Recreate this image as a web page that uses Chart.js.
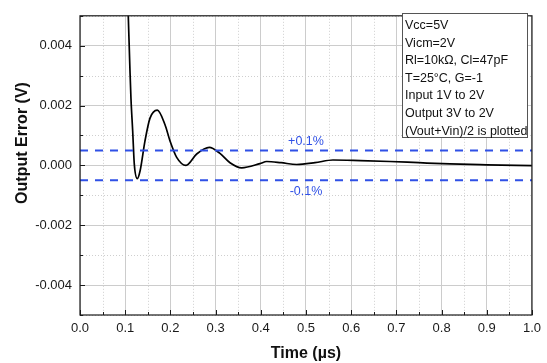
<!DOCTYPE html>
<html>
<head>
<meta charset="utf-8">
<script src="https://cdn.jsdelivr.net/npm/chart.js"></script>
<style>
  html, body { margin: 0; padding: 0; background: #fff; }
  #wrap { width: 547px; height: 363px; }
</style>
</head>
<body>
<div id="wrap"><canvas id="errorChart"></canvas></div>
<script>
// settling waveform (time in µs, error in V)
let timeUs = [0.095, 0.1069, 0.1106, 0.1128, 0.1166, 0.1201, 0.1268, 0.1330, 0.1438, 0.1549, 0.1710, 0.1881,
  0.1991, 0.2139, 0.2345, 0.2582, 0.2861, 0.3097, 0.3319, 0.3577, 0.3982, 0.4131, 0.4450, 0.4794, 0.5200,
  0.5597, 0.6200, 0.6858, 0.7500, 0.8186, 0.9000, 1.0];
let errorV = [0.0105, 0.00495, 0.00316, 0.00223, 0.00114, 0.00005, -0.00044, -0.00018, 0.00082, 0.00158, 0.00185, 0.00136,
  0.00082, 0.00027, 0.00000, 0.00038, 0.00060, 0.00040, 0.00009, -0.00008, 0.00006, 0.00013, 0.00009, 0.00003, 0.00009,
  0.00018, 0.00016, 0.00013, 0.00009, 0.00005, 0.00002, -0.00001];

// ±0.1% limit lines
let limitTime = [0, 1];
let limitUpperV = [0.0005, 0.0005];
let limitLowerV = [-0.0005, -0.0005];
let limitLabels = ['+0.1%', '-0.1%'];

let xTicks = [0, 0.1, 0.2, 0.3, 0.4, 0.5, 0.6, 0.7, 0.8, 0.9, 1.0];
let xMinorTicks = [0.05, 0.15, 0.25, 0.35, 0.45, 0.55, 0.65, 0.75, 0.85, 0.95];
let yTicks = [-0.004, -0.002, 0, 0.002, 0.004];
let yMinorTicks = [-0.005, -0.003, -0.001, 0.001, 0.003, 0.005];

let infoLines = ['Vcc=5V', 'Vicm=2V', 'Rl=10kΩ, Cl=47pF', 'T=25°C, G=-1', 'Input 1V to 2V',
  'Output 3V to 2V', '(Vout+Vin)/2 is plotted'];

let fontFamily = "'Liberation Sans', Arial, sans-serif";
let limitColor = '#2f50e6';

Chart.defaults.font.family = fontFamily;
Chart.defaults.color = '#1a1a1a';

let toPoints = (xs, ys) => xs.map((x, i) => ({ x: x, y: ys[i] }));

let decorations = {
  id: 'decorations',
  beforeDatasetsDraw(chart) {
    let ctx = chart.ctx, a = chart.chartArea;
    let xs = chart.scales.x, ys = chart.scales.y;
    ctx.save();
    ctx.strokeStyle = '#cfcfcf';
    ctx.lineWidth = 1;
    ctx.setLineDash([1, 2]);
    xMinorTicks.forEach(v => {
      let px = Math.round(xs.getPixelForValue(v)) + 0.5;
      ctx.beginPath(); ctx.moveTo(px, a.top); ctx.lineTo(px, a.bottom); ctx.stroke();
    });
    yMinorTicks.forEach(v => {
      let py = Math.round(ys.getPixelForValue(v)) + 0.5;
      ctx.beginPath(); ctx.moveTo(a.left, py); ctx.lineTo(a.right, py); ctx.stroke();
    });
    ctx.restore();
  },
  afterDraw(chart) {
    let ctx = chart.ctx, a = chart.chartArea;
    let xs = chart.scales.x, ys = chart.scales.y;
    ctx.save();

    // frame
    ctx.strokeStyle = '#1a1a1a';
    ctx.lineWidth = 1.2;
    ctx.strokeRect(a.left, a.top, a.right - a.left, a.bottom - a.top);

    // inward tick marks
    ctx.lineWidth = 1;
    ctx.beginPath();
    xTicks.forEach(v => { let px = Math.round(xs.getPixelForValue(v)) + 0.5; ctx.moveTo(px, a.bottom); ctx.lineTo(px, a.bottom - 5); });
    xMinorTicks.forEach(v => { let px = Math.round(xs.getPixelForValue(v)) + 0.5; ctx.moveTo(px, a.bottom); ctx.lineTo(px, a.bottom - 3); });
    yTicks.forEach(v => { let py = Math.round(ys.getPixelForValue(v)) + 0.5; ctx.moveTo(a.left, py); ctx.lineTo(a.left + 5, py); });
    yMinorTicks.forEach(v => { let py = Math.round(ys.getPixelForValue(v)) + 0.5; ctx.moveTo(a.left, py); ctx.lineTo(a.left + 3, py); });
    ctx.stroke();

    // limit labels
    ctx.fillStyle = limitColor;
    ctx.font = '12.5px ' + fontFamily;
    ctx.textAlign = 'center';
    ctx.textBaseline = 'middle';
    let mid = xs.getPixelForValue(0.5);
    ctx.fillText(limitLabels[0], mid, ys.getPixelForValue(limitUpperV[0]) - 9);
    ctx.fillText(limitLabels[1], mid, ys.getPixelForValue(limitLowerV[0]) + 11);

    // info box
    ctx.fillStyle = '#fff';
    ctx.fillRect(402.5, 13.5, 125, 124);
    ctx.strokeStyle = '#555';
    ctx.strokeRect(402.5, 13.5, 125, 124);
    ctx.fillStyle = '#111';
    ctx.textAlign = 'left';
    infoLines.forEach((t, i) => ctx.fillText(t, 405, 25.5 + i * 17.6));

    // y title
    ctx.translate(23, 143);
    ctx.rotate(-Math.PI / 2);
    ctx.textAlign = 'center';
    ctx.font = 'bold 16px ' + fontFamily;
    ctx.fillText('Output Error (V)', 0, 0);
    ctx.restore();
  }
};

let ctx = document.getElementById('errorChart').getContext('2d');

let errorChart = new Chart(ctx, {
  type: 'line',
  data: {
    datasets: [
      {
        data: toPoints(limitTime, limitUpperV),
        borderColor: limitColor, borderWidth: 2, borderDash: [8, 7],
        pointRadius: 0, fill: false
      },
      {
        data: toPoints(limitTime, limitLowerV),
        borderColor: limitColor, borderWidth: 2, borderDash: [8, 7],
        pointRadius: 0, fill: false
      },
      {
        data: toPoints(timeUs, errorV),
        borderColor: '#000', borderWidth: 1.7,
        pointRadius: 0, fill: false,
        cubicInterpolationMode: 'monotone',
        clip: 0
      }
    ]
  },
  options: {
    responsive: true,
    maintainAspectRatio: false,
    animation: false,
    layout: { padding: { left: 0, right: 15, top: 11, bottom: 0 } },
    plugins: { legend: { display: false }, tooltip: { enabled: false } },
    scales: {
      x: {
        type: 'linear', min: 0, max: 1,
        afterBuildTicks: s => { s.ticks = xTicks.map(v => ({ value: v })); },
        afterFit: s => { s.height = 48; },
        ticks: { padding: 6, font: { size: 13 }, color: '#1a1a1a', callback: v => v.toFixed(1) },
        grid: { color: '#cccccc', lineWidth: 1, drawTicks: false },
        border: { display: false },
        title: { display: true, text: 'Time (µs)', font: { size: 16, weight: 'bold' }, color: '#111', padding: { top: 0, bottom: 0 } }
      },
      y: {
        type: 'linear', min: -0.005, max: 0.005,
        afterBuildTicks: s => { s.ticks = yTicks.map(v => ({ value: v })); },
        afterFit: s => { s.width = 80; },
        ticks: { padding: 8, font: { size: 13 }, color: '#1a1a1a', callback: v => v.toFixed(3) },
        grid: { color: '#cccccc', lineWidth: 1, drawTicks: false },
        border: { display: false }
      }
    }
  },
  plugins: [decorations]
});
</script>
</body>
</html>
